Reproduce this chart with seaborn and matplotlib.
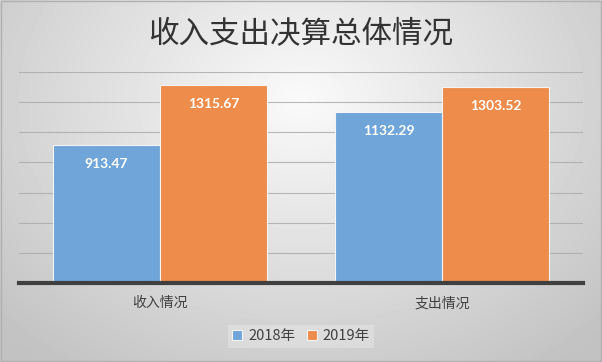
import numpy as np
import pandas as pd
import matplotlib
matplotlib.use('Agg')
import matplotlib.pyplot as plt
import seaborn as sns

# 数据
categories = ['收入情况', '支出情况']
years = ['2018年', '2019年']
values_2018 = [913.47, 1132.29]
values_2019 = [1315.67, 1303.52]
colors = ['#6fa5d8', '#ee8c4b']

df = pd.DataFrame({
    '类别': categories * 2,
    '年份': [years[0]] * 2 + [years[1]] * 2,
    '金额': values_2018 + values_2019,
})

sns.set_style('white')
plt.rcParams['font.family'] = ['Noto Sans CJK SC', 'DejaVu Sans']

fig = plt.figure(figsize=(6.02, 3.62), dpi=100)

# 背景渐变
bg = fig.add_axes([0, 0, 1, 1], zorder=-1)
yy, xx = np.mgrid[0:362, 0:602]
r = np.sqrt(((xx - 301) / 420.0) ** 2 + ((yy - 100) / 330.0) ** 2)
shade = np.clip(0.98 - 0.22 * r, 0.76, 0.98)
bg.imshow(shade, cmap='gray', vmin=0, vmax=1, aspect='auto', extent=[0, 1, 0, 1])
bg.set_axis_off()
fig.patches.append(plt.Rectangle((0.001, 0.002), 0.997, 0.995, transform=fig.transFigure,
                                 fill=False, edgecolor='#b0b0b0', linewidth=1))

ax = fig.add_axes([19 / 602, 79 / 362, 564 / 602, 211 / 362])
ax.patch.set_alpha(0)
sns.barplot(data=df, x='类别', y='金额', hue='年份', palette=colors, saturation=1,
            width=0.76, edgecolor='#f4f4f4', linewidth=0.8, ax=ax, zorder=2)

ax.set_ylim(0, 1400)
ax.set_yticks(np.arange(0, 1401, 200))
ax.yaxis.grid(True, color='#a8a8a8', linewidth=0.8, alpha=0.8)
ax.set_axisbelow(True)
ax.tick_params(axis='y', left=False, labelleft=False)
ax.tick_params(axis='x', bottom=False, labelsize=10, labelcolor='#404040', pad=6)
ax.set_xlabel('')
ax.set_ylabel('')
for s in ['top', 'right', 'left']:
    ax.spines[s].set_visible(False)
ax.spines['bottom'].set_color('#404040')
ax.spines['bottom'].set_linewidth(3)

for cont in ax.containers:
    ax.bar_label(cont, labels=[f'{v:.2f}' for v in cont.datavalues], padding=-18,
                 color='white', fontsize=10, fontweight='bold', family=['Lato', 'DejaVu Sans'])

leg = ax.legend(loc='upper center', bbox_to_anchor=(0.5, -0.165), ncol=2, frameon=True,
                fontsize=10.5, handlelength=0.7, handleheight=0.7, handletextpad=0.4,
                columnspacing=0.8, labelcolor='#404040', borderpad=0.3, fancybox=False)
leg.get_frame().set_facecolor('#e4e4e4')
leg.get_frame().set_edgecolor('none')
leg.get_frame().set_alpha(0.6)

fig.text(0.5, 0.903, '收入支出决算总体情况', ha='center', va='center', fontsize=22,
         color='#333333', fontweight='medium')

fig.savefig('out.png', dpi=100)
